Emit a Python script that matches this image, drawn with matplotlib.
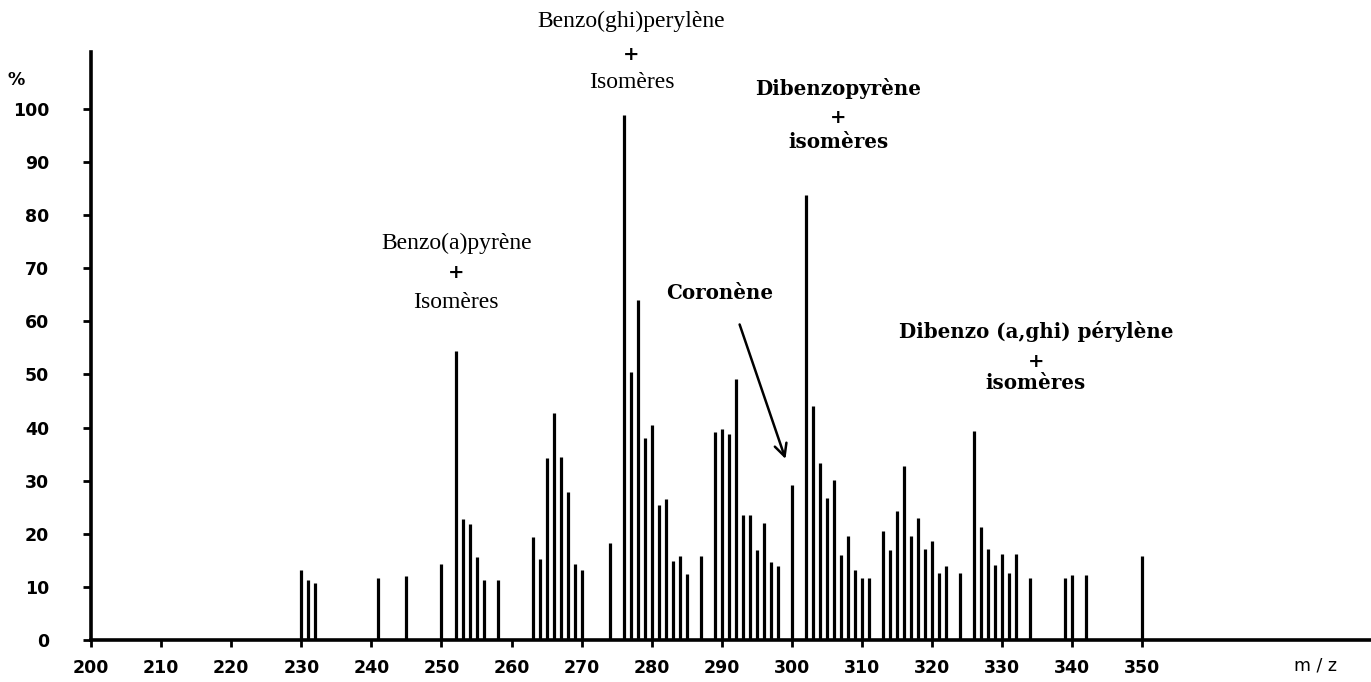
import matplotlib
matplotlib.use('Agg')
from matplotlib import pyplot as plt

# mass spectrum, relative intensity (%) per m/z
mz = [230, 231, 232, 241, 245, 250, 252, 253, 254, 255, 256, 258,
      263, 264, 265, 266, 267, 268, 269, 270, 274, 276, 277, 278,
      279, 280, 281, 282, 283, 284, 285, 287, 289, 290, 291, 292,
      293, 294, 295, 296, 297, 298, 300, 302, 303, 304, 305, 306,
      307, 308, 309, 310, 311, 313, 314, 315, 316, 317, 318, 319,
      320, 321, 322, 324, 326, 327, 328, 329, 330, 331, 332, 334,
      339, 340, 342, 350]
intensity = [13.2, 11.3, 10.7, 11.7, 12.1, 14.3, 54.5, 22.7, 21.8, 15.7, 11.3, 11.3,
             19.3, 15.2, 34.3, 42.8, 34.4, 27.8, 14.4, 13.2, 18.3, 98.9, 50.5, 64.0,
             38.0, 40.5, 25.4, 26.5, 14.9, 15.9, 12.4, 15.9, 39.1, 39.7, 38.7, 49.1,
             23.5, 23.5, 16.9, 22.1, 14.6, 13.9, 29.1, 83.8, 44.1, 33.3, 26.7, 30.1,
             16.0, 19.5, 13.1, 11.6, 11.6, 20.6, 16.9, 24.2, 32.8, 19.6, 23.0, 17.1,
             18.7, 12.6, 14.0, 12.6, 39.3, 21.2, 17.1, 14.1, 16.1, 12.7, 16.1, 11.6,
             11.6, 12.2, 12.2, 15.8]

xticks = list(range(200, 351, 10))
yticks = list(range(0, 101, 10))

fig = plt.figure(figsize=(13.71, 6.82), dpi=100)
ax = fig.add_axes([91/1371, 42/682, 1280/1371, 588/682])
ax.set_xlim(200, 382.6)
ax.set_ylim(0, 110.7)

ax.vlines(mz, 0, intensity, colors='black', linewidth=2.3)

for side in ['top', 'right']:
    ax.spines[side].set_visible(False)
for side in ['left', 'bottom']:
    ax.spines[side].set_linewidth(2.6)

tickfont = dict(family='DejaVu Sans', weight='bold', size=12.5)
ax.set_xticks(xticks)
ax.set_xticklabels([str(t) for t in xticks], fontdict=tickfont)
ax.set_yticks(yticks)
ax.set_yticklabels([str(t) for t in yticks], fontdict=tickfont)
ax.tick_params(axis='x', direction='out', length=5, width=2, pad=9)
ax.tick_params(axis='y', direction='out', length=6, width=2, pad=24)

fig.text(8/1371, 1 - 80/682, '%', ha='left', va='center', **tickfont)
fig.text(1315/1371, 1 - 665/682, 'm / z', ha='center', va='center',
         family='DejaVu Sans', size=12.5)

# compound labels: name, "+", isomers, one line each
serif = dict(family='Liberation Serif', size=17)
bold = dict(family='DejaVu Serif', weight='bold', size=14.3)
plus = dict(family='DejaVu Serif', weight='bold', size=14)

def label(x, ys, lines, font):
    for y, s, f in zip(ys, lines, [font, plus, font]):
        ax.text(x, y, s, ha='center', va='center', **f)

label(277.1, [116.4, 110.2, 104.9], ['Benzo(ghi)perylène', '+', 'Isomères'], serif)
label(252.1, [74.6, 69.0, 63.5], ['Benzo(a)pyrène', '+', 'Isomères'], serif)
label(306.6, [103.9, 98.2, 93.8], ['Dibenzopyrène', '+', 'isomères'], bold)
label(334.8, [58.1, 52.4, 48.3], ['Dibenzo (a,ghi) pérylène', '+', 'isomères'], bold)
ax.text(289.7, 65.3, 'Coronène', ha='center', va='center', **bold)

ax.annotate('', xy=(299.2, 33.6), xytext=(292.4, 59.9),
            arrowprops=dict(arrowstyle='->', color='black', lw=1.8, mutation_scale=22))

fig.savefig('out.png', dpi=100)
